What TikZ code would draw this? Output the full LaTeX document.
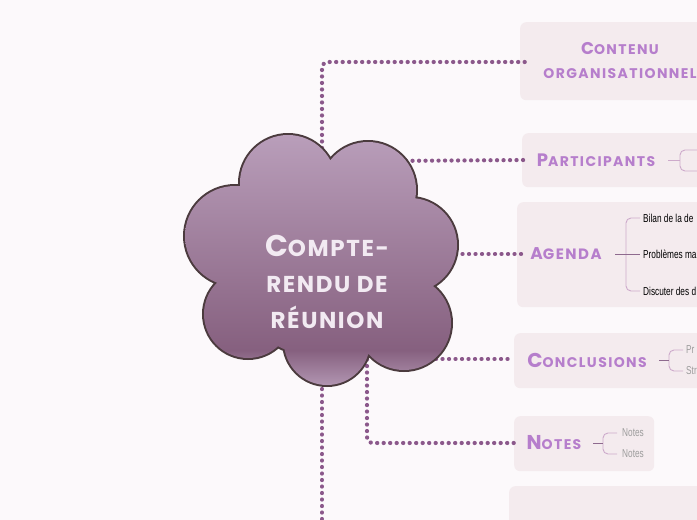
\documentclass[tikz,border=0pt]{standalone}
\usepackage{fontspec}
\usetikzlibrary{calc}
\newfontfamily\dispfont[LetterSpace=10]{Poppins}
\newfontfamily\cloudfont[LetterSpace=7]{Poppins}
\newfontfamily\condfont[FakeStretch=0.72]{Liberation Sans}
\definecolor{bgc}{HTML}{FCF9FB}
\definecolor{boxc}{HTML}{F4EBEE}
\definecolor{dotc}{HTML}{8B588B}
\definecolor{ttlc}{HTML}{B67ECC}
\definecolor{brkc}{HTML}{CDAACB}
\definecolor{stubc}{HTML}{8E6A8E}
\definecolor{ctop}{HTML}{B99EBA}
\definecolor{cdark}{HTML}{86607F}
\definecolor{cbot}{HTML}{B195B1}
\definecolor{cbord}{HTML}{4B3B3E}
\definecolor{ctxt}{HTML}{F2EAF2}
\definecolor{greyc}{HTML}{9C9C9C}
\pgfdeclareverticalshading{cloudsh}{100bp}{color(0bp)=(cbot); color(25bp)=(cbot); color(32bp)=(cdark); color(75bp)=(ctop); color(100bp)=(ctop)}
\newcommand\dcap[4]{{\fontsize{#1}{#1}\selectfont #2}{\fontsize{#3}{#3}\selectfont\MakeUppercase{#4}}}
\newcommand\cloudshape{(288,183) circle[radius=48] (368,190) circle[radius=48] (410,245) circle[radius=47]
  (404,323) circle[radius=47] (327,342) circle[radius=43] (248,314) circle[radius=44]
  (235,236) circle[radius=50] (322,262) circle[radius=95]}
\begin{document}
\begin{tikzpicture}[x=1pt,y=-1pt,
  box/.style={fill=boxc, rounded corners=6pt, anchor=north west, inner sep=0pt},
  ttl/.style={text=ttlc, font=\dispfont\bfseries, inner sep=1pt, align=center},
  dotline/.style={draw=dotc, line width=4.2pt, line cap=round, dash pattern=on 0.1pt off 6.4pt, rounded corners=6pt},
  brk/.style={draw=brkc, line width=0.9pt, rounded corners=5pt},
  stub/.style={draw=stubc, line width=0.9pt},
  child/.style={font=\condfont\fontsize{11.5}{14}\selectfont, anchor=west, inner sep=0pt},
  greychild/.style={child, font=\condfont\fontsize{11.5}{13}\selectfont, text=greyc},
  cloudtext/.style={text=ctxt, font=\cloudfont\bfseries\fontsize{23}{36}\selectfont, align=center}]
\useasboundingbox (0,0) rectangle (697,520);
\fill[bgc] (0,0) rectangle (697,520);
\clip (0,0) rectangle (697,520);

% boxes
\node[box, minimum width=200, minimum height=78] (b1) at (520,22) {};
\node[box, minimum width=200, minimum height=54] (b2) at (522,133) {};
\node[box, minimum width=200, minimum height=105] (b3) at (517,202) {};
\node[box, minimum width=200, minimum height=55] (b4) at (514,333) {};
\node[box, minimum width=140, minimum height=55] (b5) at (514,416) {};
\node[box, minimum width=200, minimum height=60] (b6) at (509,486) {};

% titles
\node[ttl, font=\dispfont\bfseries\fontsize{14}{24}\selectfont] (t1) at (620,61) {\dcap{17}{C}{14}{ontenu}\\\MakeUppercase{organisationnel}};
\node[ttl] (t2) at (596,160) {\dcap{18}{P}{14}{articipants}};
\node[ttl] (t3) at (566,254) {\dcap{17}{A}{15}{genda}};
\node[ttl] (t4) at (587,360) {\dcap{20}{C}{14}{onclusions}};
\node[ttl] (t5) at (554,443) {\dcap{20}{N}{14}{otes}};

% connector coordinates
\coordinate (s1) at (322,200);
\coordinate (e1) at (525,62);
\coordinate (s2) at (380,161);
\coordinate (e2) at (527,160);
\coordinate (s3) at (430,254);
\coordinate (e3) at (522,254);
\coordinate (s4) at (410,359);
\coordinate (e4) at (513,359);
\coordinate (s5) at (367,340);
\coordinate (e5) at (515,443);
\coordinate (s6) at (322,350);
\coordinate (e6) at (322,530);

\draw[dotline] (s1) |- (e1);
\draw[dotline] (s2) -- (e2);
\draw[dotline] (s3) -- (e3);
\draw[dotline] (s4) -- (e4);
\draw[dotline] (s5) |- (e5);
\draw[dotline] (s6) -- (e6);

% cloud
\draw[cbord, line width=4pt] \cloudshape;
\shade[shading=cloudsh] \cloudshape;
\node[cloudtext] (ct) at (327,282) {\dcap{30}{C}{23}{ompte-}\\\MakeUppercase{rendu de}\\\MakeUppercase{réunion}};

% participants bracket
\coordinate (p1) at (700,150);
\coordinate (p2) at (700,171);
\coordinate (pm) at (680,160);
\draw[brk] (p1) -| (pm) |- (p2);
\draw[brk] (668,160) -- (pm);

% agenda children
\node[child] (a1) at (643,218) {Bilan de la de};
\node[child] (a2) at (643,254) {Problèmes ma};
\node[child] (a3) at (643,291) {Discuter des d};
\coordinate (am) at (626,254);
\draw[brk] ($(a1.west)+(-3,0)$) -| (am) |- ($(a3.west)+(-3,0)$);
\draw[stub] (615,254) -- ($(a2.west)+(-3,0)$);

% conclusions children
\node[greychild] (c1) at (686,350) {Pr};
\node[greychild] (c2) at (686,371) {Str};
\coordinate (cm) at (669,360);
\draw[brk] ($(c1.west)+(-3,0)$) -| (cm) |- ($(c2.west)+(-3,0)$);
\draw[stub] (659,360) -- (cm);

% notes children
\node[greychild] (n1) at (622,433) {Notes};
\node[greychild] (n2) at (622,454) {Notes};
\coordinate (nm) at (603,443);
\draw[brk] ($(n1.west)+(-5,0)$) -| (nm) |- ($(n2.west)+(-5,0)$);
\draw[stub] (593,443) -- (nm);
\end{tikzpicture}
\end{document}
